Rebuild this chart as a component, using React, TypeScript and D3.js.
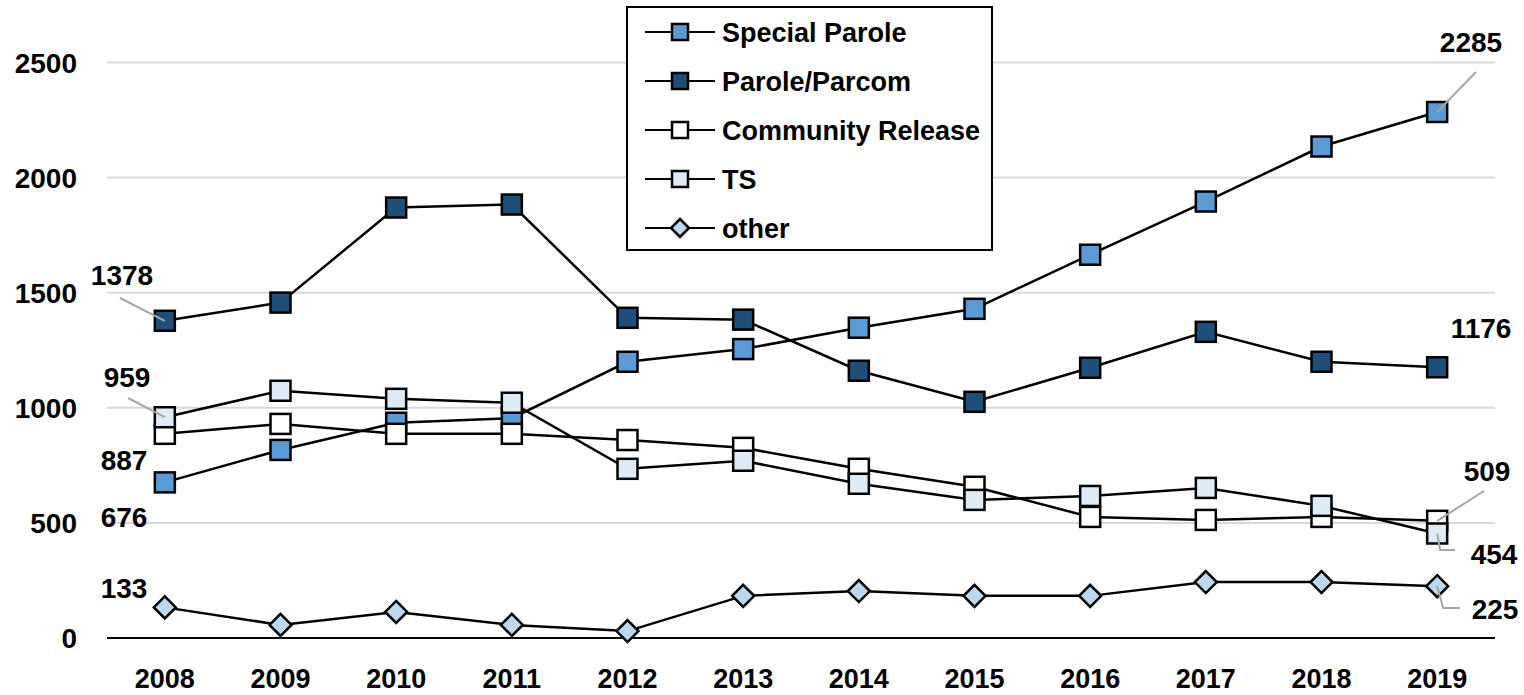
import React from "react";
import * as d3 from "d3";

const years = ["2008","2009","2010","2011","2012","2013","2014","2015","2016","2017","2018","2019"];
const specialParole = [676, 817, 935, 955, 1200, 1255, 1348, 1430, 1665, 1896, 2135, 2285];
const paroleParcom = [1378, 1457, 1870, 1883, 1391, 1383, 1161, 1026, 1174, 1330, 1200, 1176];
const communityRelease = [887, 930, 887, 887, 860, 826, 735, 657, 526, 513, 526, 509];
const ts = [959, 1074, 1039, 1022, 735, 770, 670, 600, 617, 652, 574, 454];
const other = [133, 57, 113, 57, 30, 183, 204, 183, 183, 243, 243, 225];
const yTicks = [0, 500, 1000, 1500, 2000, 2500];

const seriesNames = ["Special Parole", "Parole/Parcom", "Community Release", "TS", "other"];
const seriesColors = ["#5B9BD5", "#1F4E79", "#FFFFFF", "#DEEBF7", "#BDD7EE"];
const seriesShapes = ["square", "square", "square", "square", "diamond"];
const seriesValues = [specialParole, paroleParcom, communityRelease, ts, other];

const W = 1524, H = 695;
const FONT = "'Liberation Sans', Arial, sans-serif";

export default function App() {
  const x = d3.scaleBand<string>().domain(years).range([107, 1495]);
  const cx = (yr: string) => (x(yr) as number) + x.bandwidth() / 2;
  const y = d3.scaleLinear().domain([0, 2500]).range([638, 62.5]);
  const line = d3.line<number>().x((_, i) => cx(years[i])).y((v) => y(v));

  const marker = (shape: string, px: number, py: number, fill: string, size: number, key: any) => {
    if (shape === "diamond") {
      const r = size / 2 + 1;
      return (
        <path key={key} d={`M${px},${py - r}L${px + r},${py}L${px},${py + r}L${px - r},${py}Z`}
          fill={fill} stroke="#000" strokeWidth={2.5} />
      );
    }
    return (
      <rect key={key} x={px - size / 2} y={py - size / 2} width={size} height={size}
        fill={fill} stroke="#000" strokeWidth={2.5} />
    );
  };

  const labelStyle = { fontFamily: FONT, fontWeight: 700, fontSize: 28 } as any;
  const yearStyle = { fontFamily: FONT, fontWeight: 700, fontSize: 27 } as any;
  const legendStyle = { fontFamily: FONT, fontWeight: 700, fontSize: 27 } as any;
  const first = years[0], last = years[years.length - 1];
  const x0 = cx(first), xL = cx(last);

  return (
    <svg width={W} height={H} style={{ position: "absolute", left: 0, top: 0, background: "#fff" }}>
      {yTicks.filter((t) => t > 0).map((t) => (
        <line key={t} x1={107} x2={1495} y1={y(t)} y2={y(t)} stroke="#D9D9D9" strokeWidth={2} />
      ))}
      <line x1={107} x2={1495} y1={y(0)} y2={y(0)} stroke="#000" strokeWidth={2} />
      {yTicks.map((t) => (
        <text key={t} x={77} y={y(t)} dy="0.36em" textAnchor="end" style={labelStyle}>{t}</text>
      ))}
      {years.map((yr) => (
        <text key={yr} x={cx(yr)} y={688} textAnchor="middle" style={yearStyle}>{yr}</text>
      ))}
      {seriesValues.map((vals, si) => (
        <g key={si}>
          <path d={line(vals) as string} fill="none" stroke="#000" strokeWidth={2.5} />
          {vals.map((v, i) => marker(seriesShapes[si], cx(years[i]), y(v), seriesColors[si], 20, i))}
        </g>
      ))}
      <g stroke="#A6A6A6" strokeWidth={2} fill="none">
        <path d={`M120,298L${x0},${y(paroleParcom[0])}`} />
        <path d={`M128,398L${x0},${y(ts[0])}`} />
        <path d={`M1476,72L${xL},${y(specialParole[11])}`} />
        <path d={`M1484,491L${xL},${y(communityRelease[11])}`} />
        <path d={`M${xL},${y(ts[11])}L${xL + 3},550L1455,550`} />
        <path d={`M${xL},${y(other[11])}L${xL + 6},608L1460,608`} />
      </g>
      <g style={labelStyle} textAnchor="middle">
        <text x={122} y={275} dy="0.36em">{paroleParcom[0]}</text>
        <text x={127} y={377} dy="0.36em">{ts[0]}</text>
        <text x={124} y={460} dy="0.36em">{communityRelease[0]}</text>
        <text x={124} y={517} dy="0.36em">{specialParole[0]}</text>
        <text x={124} y={588} dy="0.36em">{other[0]}</text>
        <text x={1471} y={42} dy="0.36em">{specialParole[11]}</text>
        <text x={1481} y={328} dy="0.36em">{paroleParcom[11]}</text>
        <text x={1487} y={471} dy="0.36em">{communityRelease[11]}</text>
        <text x={1494} y={554} dy="0.36em">{ts[11]}</text>
        <text x={1495} y={609} dy="0.36em">{other[11]}</text>
      </g>
      <rect x={627} y={7} width={365} height={243} fill="#fff" stroke="#000" strokeWidth={2} />
      {seriesNames.map((name, i) => {
        const ly = 32 + i * 49;
        return (
          <g key={name}>
            <line x1={645} x2={715} y1={ly} y2={ly} stroke="#000" strokeWidth={2} />
            {marker(seriesShapes[i], 680, ly, seriesColors[i], 16, "m")}
            <text x={722} y={ly} dy="0.36em" style={legendStyle}>{name}</text>
          </g>
        );
      })}
    </svg>
  );
}
